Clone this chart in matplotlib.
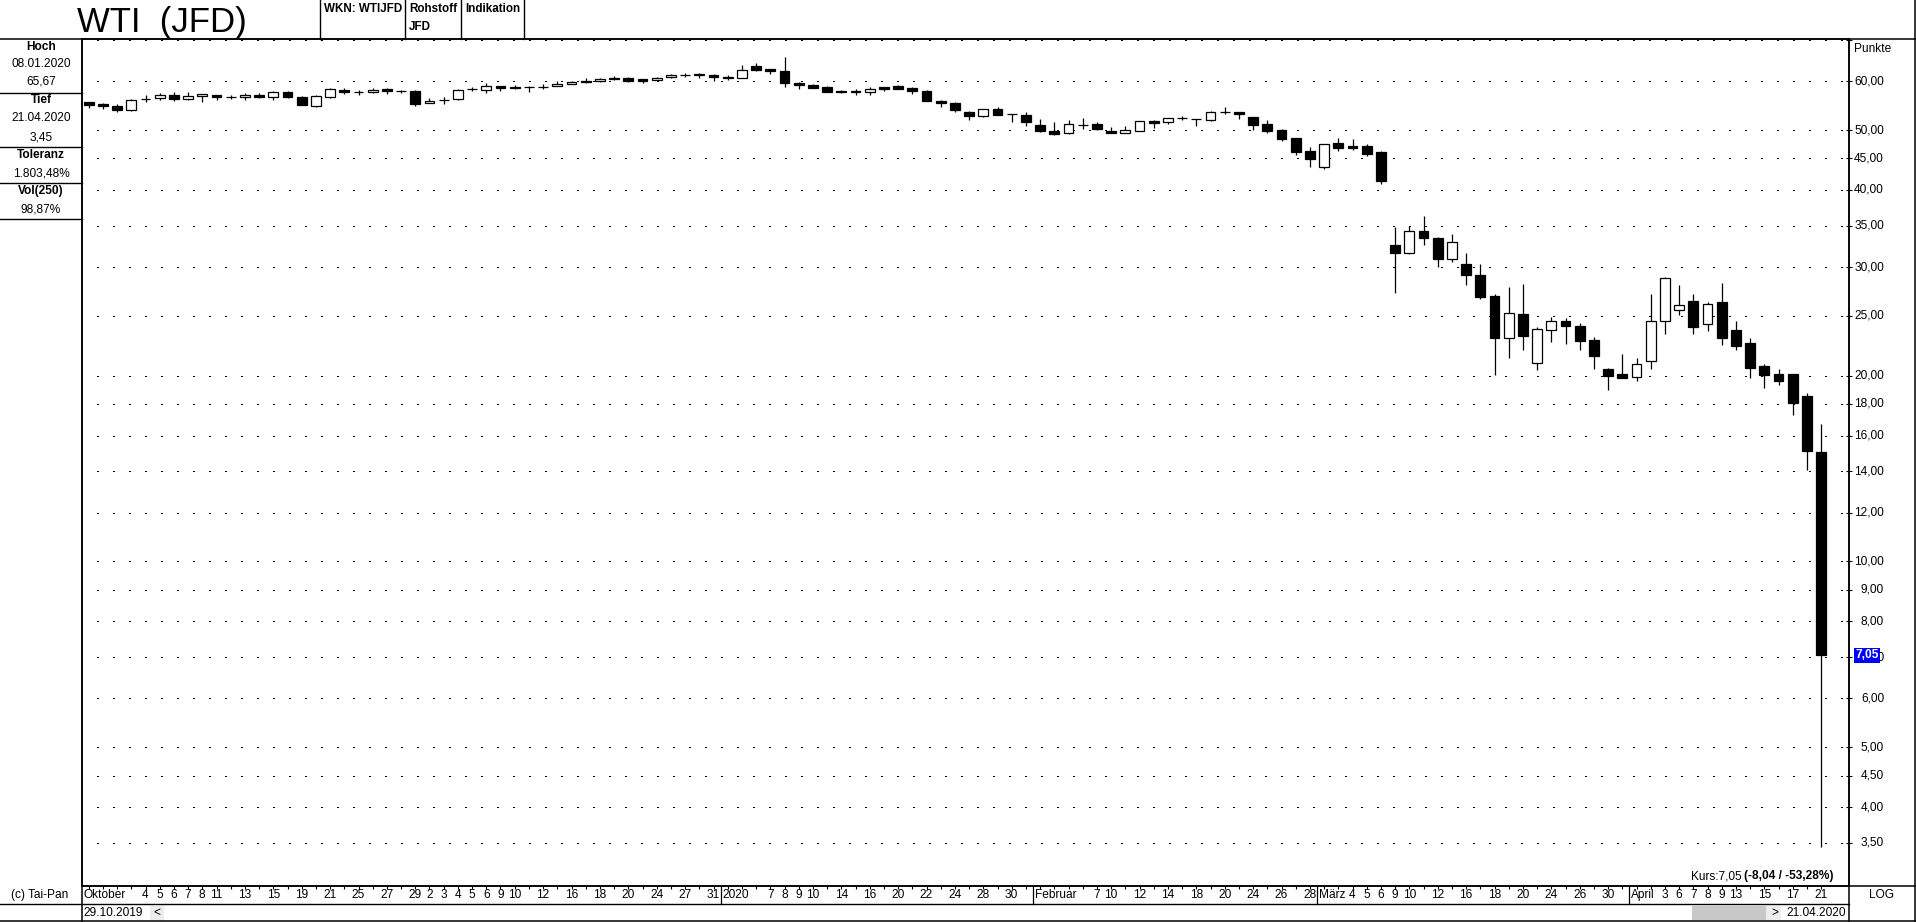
import matplotlib
matplotlib.use('Agg')
import matplotlib.pyplot as plt
from matplotlib.patches import Rectangle
from matplotlib.lines import Line2D
import matplotlib.transforms as mtransforms
from matplotlib.ticker import FixedLocator, NullLocator, NullFormatter

plt.rcParams['font.family'] = ['Liberation Sans', 'DejaVu Sans']
plt.rcParams['lines.scale_dashes'] = False

# ---------------- data ----------------
# trading days per month (29.10.2019 - 21.04.2020)
days_oct = [29, 30, 31]
days_nov = [1, 4, 5, 6, 7, 8, 11, 12, 13, 14, 15, 18, 19, 20, 21, 22, 25, 26, 27, 28, 29]
days_dec = [2, 3, 4, 5, 6, 9, 10, 11, 12, 13, 16, 17, 18, 19, 20, 23, 24, 26, 27, 30, 31]
days_jan = [2, 3, 6, 7, 8, 9, 10, 13, 14, 15, 16, 17, 20, 21, 22, 23, 24, 27, 28, 29, 30, 31]
days_feb = [3, 4, 5, 6, 7, 10, 11, 12, 13, 14, 17, 18, 19, 20, 21, 24, 25, 26, 27, 28]
days_mar = [2, 3, 4, 5, 6, 9, 10, 11, 12, 13, 16, 17, 18, 19, 20, 23, 24, 25, 26, 27, 30, 31]
days_apr = [1, 2, 3, 6, 7, 8, 9, 13, 14, 15, 16, 17, 20, 21]

# labelled days on the time axis
lab_oct = []
lab_nov = [4, 5, 6, 7, 8, 11, 13, 15, 19, 21, 25, 27, 29]
lab_dec = [2, 3, 4, 5, 6, 9, 10, 12, 16, 18, 20, 24, 27, 31]
lab_jan = [7, 8, 9, 10, 14, 16, 20, 22, 24, 28, 30]
lab_feb = [7, 10, 12, 14, 18, 20, 24, 26, 28]
lab_mar = [4, 5, 6, 9, 10, 12, 16, 18, 20, 24, 26, 30]
lab_apr = [3, 6, 7, 8, 9, 13, 15, 17, 21]
month_names = ['Oktober', None, None, '2020', 'Februar', 'März', 'April']

opens = [55.55, 55.21, 54.80, 53.85, 56.18, 56.32, 57.09, 56.18, 56.74, 57.02,
         56.60, 56.53, 57.09, 56.53, 57.73, 56.67, 54.80, 56.60, 58.02, 57.66,
         57.66, 58.24, 57.95, 57.95, 55.34, 55.90, 56.18, 58.24, 58.10, 58.97,
         58.82, 58.68, 58.66, 58.97, 59.41, 60.16, 60.08, 60.84, 60.84, 60.46,
         60.23, 60.99, 61.44, 61.52, 61.52, 61.06, 60.76, 63.62, 62.76, 62.45,
         59.71, 59.27, 58.68, 57.95, 57.95, 57.59, 58.68, 59.05, 58.61, 57.95,
         55.82, 55.41, 53.41, 52.75, 54.08, 53.08, 52.88, 50.95, 49.82, 49.51,
         51.01, 51.14, 49.82, 49.51, 49.88, 51.65, 51.46, 52.30, 52.16, 51.97,
         53.41, 53.48, 52.49, 51.14, 50.00, 48.53, 46.23, 43.61, 47.63, 47.10,
         47.10, 46.06, 32.56, 31.65, 34.35, 33.39, 30.96, 30.33, 29.12, 26.92,
         23.04, 25.16, 20.99, 23.74, 24.57, 24.07, 22.86, 20.51, 20.12, 19.90,
         21.09, 24.57, 25.60, 26.41, 24.23, 26.33, 23.70, 22.61, 20.73, 20.15,
         20.12, 18.54, 15.04]
highs = [55.62, 55.34, 55.21, 56.10, 57.09, 57.38, 57.66, 57.59, 57.23, 57.05,
         57.09, 57.38, 57.38, 57.81, 57.95, 56.81, 57.09, 58.46, 58.46, 58.10,
         58.46, 58.53, 58.00, 58.10, 56.32, 56.53, 58.39, 58.68, 59.56, 59.00,
         59.26, 58.97, 59.41, 60.16, 60.16, 60.76, 60.76, 61.29, 61.06, 60.61,
         60.99, 61.60, 61.83, 61.98, 61.67, 61.37, 63.86, 64.26, 62.91, 65.67,
         59.78, 59.49, 58.90, 58.17, 58.24, 58.75, 58.70, 59.19, 58.75, 58.17,
         55.96, 55.55, 53.61, 54.05, 54.49, 53.10, 53.48, 52.10, 51.52, 51.84,
         52.30, 51.46, 50.57, 50.76, 51.74, 51.84, 52.25, 52.62, 52.20, 53.61,
         54.42, 53.55, 52.50, 51.84, 50.19, 48.55, 46.93, 47.50, 48.53, 48.35,
         47.40, 46.23, 34.81, 34.90, 36.29, 33.55, 33.92, 31.60, 30.33, 27.13,
         27.87, 28.17, 23.96, 24.88, 24.84, 24.34, 23.11, 20.60, 21.67, 21.36,
         27.13, 28.89, 28.04, 27.13, 26.33, 28.26, 24.53, 23.00, 20.86, 20.47,
         20.15, 18.75, 16.69]
lows = [54.32, 54.12, 53.45, 53.72, 55.48, 55.97, 55.69, 55.97, 55.48, 55.90,
        56.11, 55.97, 56.32, 56.04, 56.32, 54.85, 54.46, 56.39, 57.23, 56.95,
        57.45, 57.23, 57.52, 54.66, 55.30, 55.07, 55.90, 57.81, 57.38, 57.81,
        58.30, 57.59, 58.32, 58.97, 59.41, 59.56, 59.78, 60.23, 59.78, 59.64,
        60.20, 60.68, 60.99, 60.76, 60.16, 60.31, 60.76, 62.29, 61.60, 58.68,
        58.24, 58.46, 57.59, 57.45, 56.95, 57.09, 57.81, 58.22, 57.31, 55.65,
        54.45, 53.44, 51.97, 52.49, 52.85, 51.58, 50.82, 49.69, 49.14, 49.33,
        50.13, 50.07, 49.39, 49.50, 49.85, 50.44, 51.14, 51.84, 50.82, 51.78,
        53.15, 52.16, 50.07, 49.51, 47.99, 45.55, 43.55, 43.23, 46.29, 46.46,
        45.38, 40.93, 27.21, 31.55, 32.51, 29.96, 30.62, 28.04, 26.58, 20.06,
        21.33, 21.98, 20.44, 22.71, 22.53, 22.04, 20.54, 18.98, 19.82, 19.62,
        20.54, 23.33, 25.12, 23.40, 23.59, 22.46, 21.98, 19.84, 19.13, 19.35,
        17.27, 14.06, 3.45]
closes = [55.00, 54.66, 53.85, 56.04, 56.20, 57.02, 56.18, 56.88, 57.23, 56.53,
          56.62, 57.02, 56.53, 57.66, 56.53, 54.87, 56.88, 58.24, 57.59, 57.68,
          58.17, 57.81, 57.95, 55.14, 55.83, 55.92, 58.17, 58.26, 58.97, 58.53,
          58.46, 58.70, 58.70, 59.49, 59.93, 59.78, 60.61, 60.46, 60.01, 60.01,
          60.76, 61.44, 61.46, 61.54, 60.91, 60.68, 62.60, 62.52, 62.29, 59.56,
          59.12, 58.61, 57.59, 57.59, 57.59, 58.39, 58.24, 58.24, 57.81, 55.69,
          55.27, 53.84, 52.75, 54.01, 52.88, 53.08, 51.58, 49.88, 49.33, 51.07,
          51.03, 50.25, 49.51, 49.94, 51.71, 51.39, 52.23, 52.32, 52.16, 53.41,
          53.43, 53.15, 50.95, 49.82, 48.35, 46.06, 44.93, 47.46, 46.81, 46.81,
          45.77, 41.33, 31.63, 34.35, 33.39, 30.96, 32.92, 29.07, 26.83, 23.04,
          25.28, 23.22, 23.77, 24.57, 24.04, 22.75, 21.53, 20.00, 19.84, 20.93,
          24.53, 28.80, 26.08, 24.00, 26.13, 23.04, 22.32, 20.60, 20.06, 19.62,
          18.08, 15.09, 7.05]

yticks = [70, 60, 50, 45, 40, 35, 30, 25, 20, 18, 16, 14, 12, 10, 9, 8, 7, 6, 5, 4.5, 4, 3.5]
ylabels = ['', '60,00', '50,00', '45,00', '40,00', '35,00', '30,00', '25,00', '20,00', '18,00',
           '16,00', '14,00', '12,00', '10,00', '9,00', '8,00', '7,00', '6,00', '5,00',
           '4,50', '4,00', '3,50']
last_price = 7.05
kurs_plain = 'Kurs:7,05 '
kurs_bold = '(-8,04 / -53,28%)'
info_rows = [('Hoch', True), ('08.01.2020', False), ('65,67', False),
             ('Tief', True), ('21.04.2020', False), ('3,45', False),
             ('Toleranz', True), ('1.803,48%', False),
             ('Vol(250)', True), ('98,87%', False)]

# ---------------- layout ----------------
W, H = 1916, 922
fig = plt.figure(figsize=(W / 100, H / 100), dpi=100)
fig.patch.set_facecolor('white')


def fx(x):
    return x / W


def fy(y):
    return 1 - y / H


L, R, T, B = 82, 1849, 39, 886
ax = fig.add_axes([fx(L), fy(B), fx(R) - fx(L), fy(T) - fy(B)])

n = len(opens)
step = 14.2
first = 88.7
ax.set_xlim(-(first - L) / step, (R - first) / step)
ax.set_yscale('log')
ax.set_ylim(2.98, 70.24)

# candles
bw = 0.68
for i, (o, h, l, c) in enumerate(zip(opens, highs, lows, closes)):
    ax.vlines(i, l, h, color='k', lw=0.9, zorder=2)
    lo, hi = min(o, c), max(o, c)
    ax.add_patch(Rectangle((i - bw / 2, lo), bw, hi - lo,
                           facecolor='k' if c < o else 'w',
                           edgecolor='k', lw=0.9, zorder=3))

# y axis (log) with dotted grid
ax.yaxis.set_major_locator(FixedLocator(yticks))
ax.yaxis.set_minor_locator(NullLocator())
ax.yaxis.set_major_formatter(NullFormatter())
ax.yaxis.set_minor_formatter(NullFormatter())
ax.tick_params(axis='y', which='major', left=False, right=True, direction='inout',
               length=4, width=0.8, labelleft=False, labelright=False)
ax.yaxis.grid(True, color='k', lw=0.8, linestyle=(0.5, (0.72, 10.8)), antialiased=False)

# x axis ticks for every trading day
ax.set_xticks(range(n))
ax.xaxis.set_major_formatter(NullFormatter())
ax.tick_params(axis='x', which='major', bottom=True, top=False, direction='out',
               length=2.5, width=0.8, labelbottom=False)
for s in ax.spines.values():
    s.set_linewidth(1.1)

trans_y = mtransforms.blended_transform_factory(fig.transFigure, ax.transData)
trans_x = mtransforms.blended_transform_factory(ax.transData, fig.transFigure)

fs = 8.6
for v, lab in zip(yticks, ylabels):
    if lab:
        ax.text(fx(1884), v, lab, transform=trans_y, ha='right', va='center',
                fontsize=fs, clip_on=False)
ax.text(fx(1855), last_price, '7,05', transform=trans_y, ha='left', va='center',
        fontsize=fs, color='white', fontweight='bold', clip_on=False, zorder=5,
        bbox=dict(boxstyle='square,pad=0.12', fc='#0000ff', ec='none'))
fig.text(fx(1854), fy(49), 'Punkte', ha='left', va='center', fontsize=fs)

# time axis labels
months = [days_oct, days_nov, days_dec, days_jan, days_feb, days_mar, days_apr]
labs = [lab_oct, lab_nov, lab_dec, lab_jan, lab_feb, lab_mar, lab_apr]
idx = 0
lab_y = fy(895)
for m, (days, lab, name) in enumerate(zip(months, labs, month_names)):
    start = idx
    if name is not None:
        if m > 0:
            ax.plot([start - 0.5, start - 0.5], [fy(886), fy(904)], transform=trans_x,
                    color='k', lw=0.9, clip_on=False)
        ax.text(start - 0.5 + 2.0 / step, lab_y, name, transform=trans_x, ha='left',
                va='center', fontsize=fs, clip_on=False)
    for d in days:
        if d in lab:
            ax.text(idx, lab_y, str(d), transform=trans_x, ha='center', va='center',
                    fontsize=fs, clip_on=False)
        idx += 1

# Kurs text
kb = fig.text(fx(1834), fy(876), kurs_bold, ha='right', va='center', fontsize=fs,
              fontweight='bold')
fig.text(0, 0, '')
ax.annotate(kurs_plain, xy=(0, 0.5), xycoords=kb, ha='right', va='center', fontsize=fs)

# ---------------- frame lines ----------------
def hline(y, x0, x1, lw=1.0, color='k'):
    fig.add_artist(Line2D([fx(x0), fx(x1)], [fy(y), fy(y)], color=color, lw=lw,
                          transform=fig.transFigure))


def vline(x, y0, y1, lw=1.0, color='k'):
    fig.add_artist(Line2D([fx(x), fx(x)], [fy(y0), fy(y1)], color=color, lw=lw,
                          transform=fig.transFigure))


hline(T, 0, W, lw=1.1)
for xs in [320, 405, 461, 524]:
    vline(xs, 0, T)
for ys in [93, 147, 183, 219]:
    hline(ys, 0, L)
vline(L, T, 921, lw=1.1)
vline(R, T, 921, lw=1.1)
hline(B, L, W, lw=1.1)
hline(904, 0, R)
hline(921, 0, W, lw=1.1)
vline(1915, 0, 921, lw=1.1)

# header
fig.text(fx(77), fy(32), 'WTI  (JFD)', ha='left', va='baseline', fontsize=25)
fig.text(fx(324), fy(8.5), 'WKN: WTIJFD', ha='left', va='center', fontsize=8.4, fontweight='bold')
fig.text(fx(409), fy(8.5), 'Rohstoff', ha='left', va='center', fontsize=8.4, fontweight='bold')
fig.text(fx(409), fy(27), 'JFD', ha='left', va='center', fontsize=8.4, fontweight='bold')
fig.text(fx(465), fy(8.5), 'Indikation', ha='left', va='center', fontsize=8.4, fontweight='bold')

# left info panel
info_y = [47, 64, 82, 100, 118, 137, 155, 173, 191, 209]
for (txt, bold), yy in zip(info_rows, info_y):
    fig.text(fx(41), fy(yy), txt, ha='center', va='center', fontsize=fs,
             fontweight='bold' if bold else 'normal')

# bottom strip
fig.text(fx(40), fy(895), '(c) Tai-Pan', ha='center', va='center', fontsize=fs)
fig.text(fx(1881), fy(895), 'LOG', ha='center', va='center', fontsize=fs)
fig.text(fx(83), fy(913), '29.10.2019', ha='left', va='center', fontsize=fs)
fig.add_artist(Rectangle((fx(150), fy(921)), fx(14), 15 / H, transform=fig.transFigure,
                         fc='#ececec', ec='none'))
fig.text(fx(157), fy(913), '<', ha='center', va='center', fontsize=fs)
fig.add_artist(Rectangle((fx(1692), fy(920)), fx(74), 14 / H, transform=fig.transFigure,
                         fc='#c8c8c8', ec='none'))
fig.add_artist(Rectangle((fx(1766), fy(920)), fx(15), 14 / H, transform=fig.transFigure,
                         fc='#ececec', ec='none'))
fig.text(fx(1775), fy(913), '>', ha='center', va='center', fontsize=fs)
fig.text(fx(1846), fy(913), '21.04.2020', ha='right', va='center', fontsize=fs)

fig.savefig('out.png', dpi=100, facecolor='white')
